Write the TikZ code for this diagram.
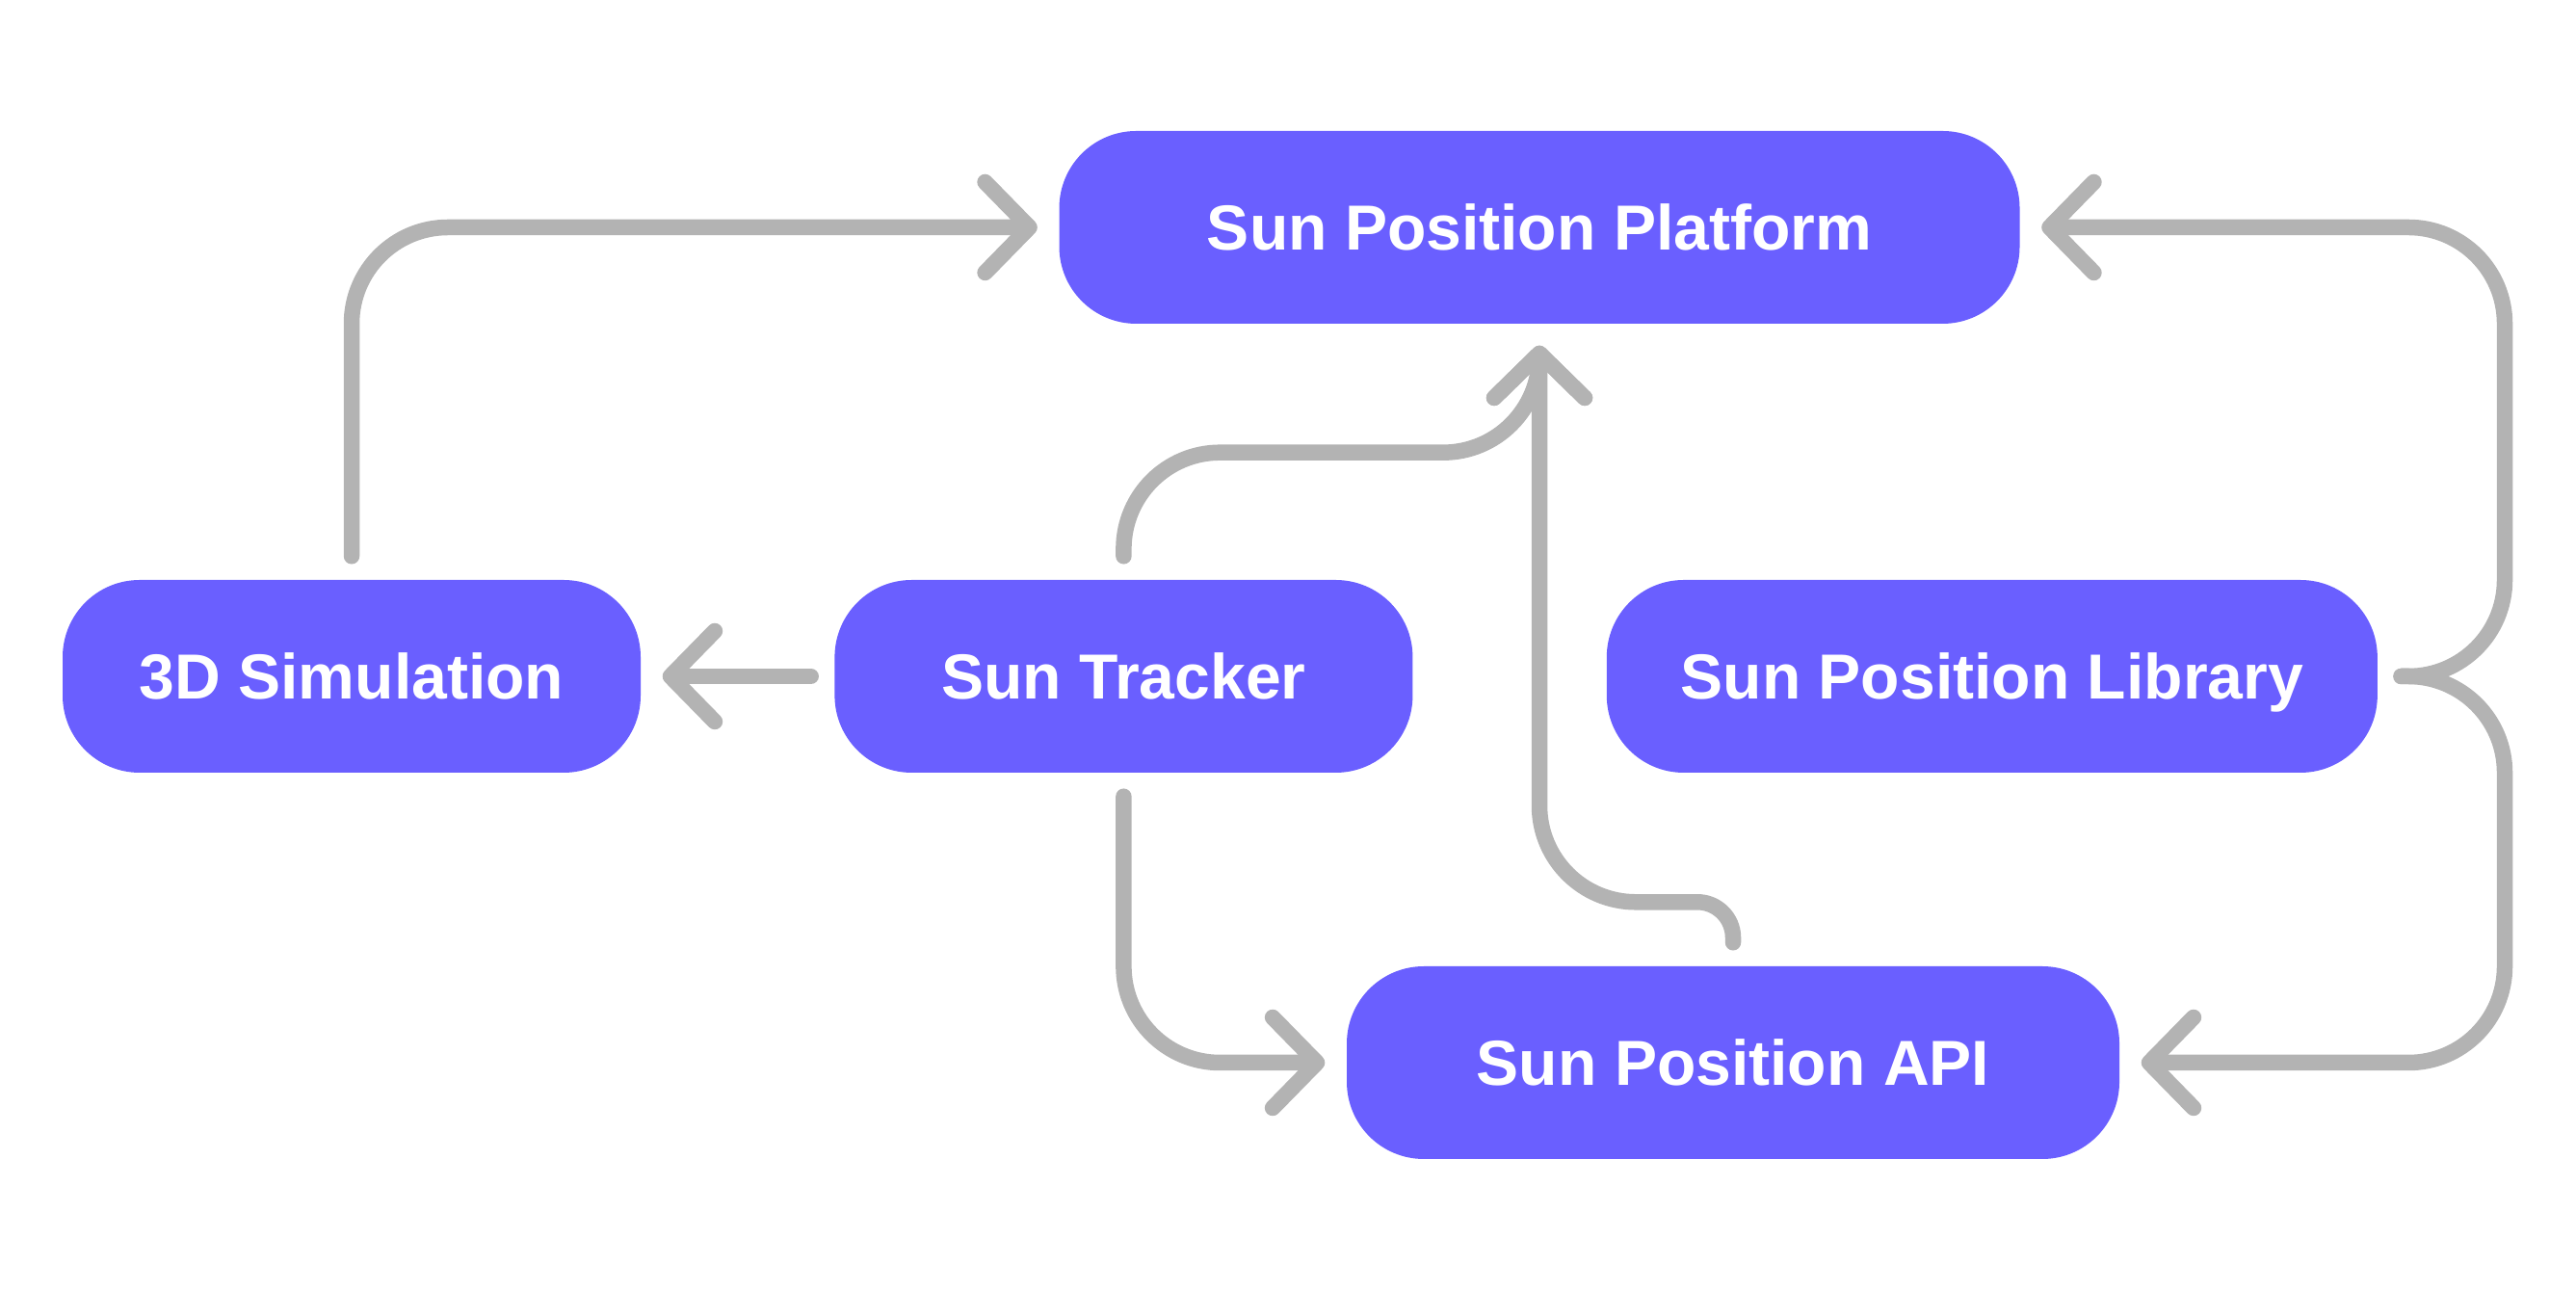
\documentclass[tikz,border=0pt]{standalone}
\usepackage{fontspec}
\setmainfont{Liberation Sans}
\usetikzlibrary{arrows.meta,positioning,calc}
\definecolor{boxblue}{HTML}{6A5FFF}
\definecolor{linkgray}{HTML}{B3B3B3}

\begin{document}
\begin{tikzpicture}
%boxes are pill shaped, links end in open chevrons
\tikzstyle{box}=[fill=boxblue, text=white, rounded corners=0.8cm, minimum height=2cm, font=\fontsize{18.8pt}{22pt}\selectfont\bfseries, text height=13.5pt, text depth=0pt, node distance = 2cm]
\tikzstyle{link}=[draw=linkgray, line width=0.165cm, line cap=round, rounded corners=1cm, -{Straight Barb[length=0.46cm, width=0.94cm, line width=0.165cm, round]}, shorten <=0.24cm, shorten >=0.22cm]
\useasboundingbox (0,0) rectangle (26.74,13.40);
\node[box, minimum width=6cm](sim) at (3.65,6.38) {3D Simulation};
\node[box, minimum width=6cm](track) [right = of sim] {Sun Tracker};
\node[box, minimum width=8cm](lib) [right = of track] {Sun Position Library};
\node[box, minimum width=9.97cm](plat) at (15.98,11.04) {Sun Position Platform};
\node[box, minimum width=8.02cm](api) at (17.99,2.37) {Sun Position API};
\coordinate (split) at (26.00,6.38);
\draw[link] (sim.north) |- (plat.west);
\draw[link] (track.west) -- (sim.east);
\draw[link] (track.north) |- ($(plat.south)+(0,-1.33)$) -- (plat.south);
\draw[link, sharp corners] (api.north) -- ++(0,0.29) arc[start angle=0, end angle=90, radius=0.37cm] -- ++(-0.64,0) arc[start angle=270, end angle=180, radius=1cm] -- (plat.south);
\draw[link] (track.south) |- (api.west);
\draw[link] (lib.east) -- (split) |- (plat.east);
\draw[link] (lib.east) -- (split) |- (api.east);
\end{tikzpicture}
\end{document}
